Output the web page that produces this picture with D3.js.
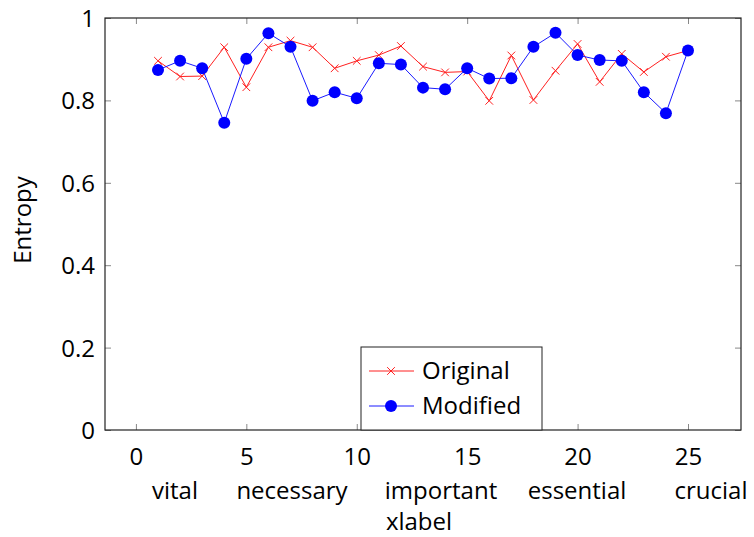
<!DOCTYPE html>
<html>
<head>
<meta charset="utf-8">
<script src="https://cdn.jsdelivr.net/npm/d3@7"></script>
<style>
  body { margin: 0; background: #fff; }
  text { font-family: "Open Sans", "DejaVu Sans", sans-serif; fill: #000; }
  .tick line { stroke: #888; }
</style>
</head>
<body>
<script>
// data
var xs = d3.range(1, 26);
var original = [0.896, 0.858, 0.859, 0.929, 0.832, 0.929, 0.945, 0.929, 0.878, 0.896,
                0.910, 0.932, 0.882, 0.868, 0.870, 0.799, 0.909, 0.801, 0.872, 0.937,
                0.845, 0.913, 0.869, 0.906, 0.921];
var modified = [0.874, 0.896, 0.878, 0.746, 0.901, 0.963, 0.930, 0.799, 0.820, 0.805,
                0.890, 0.887, 0.831, 0.827, 0.878, 0.853, 0.854, 0.930, 0.964, 0.910,
                0.898, 0.896, 0.820, 0.769, 0.921];
var xTicks = [0, 5, 10, 15, 20, 25];
var yTicks = [0, 0.2, 0.4, 0.6, 0.8, 1];
var words = ["vital", "necessary", "important", "essential", "crucial"];
var wordX = [175, 292, 441, 577, 711];   // pixel centres of the word row

(function(){
  var width = 754, height = 537;
  var left = 105, right = 741, top = 18, bottom = 430;
  var fs = "24px";

  var svg = d3.select("body").append("svg")
    .attr("width", width)
    .attr("height", height);

  var x = d3.scaleLinear().domain([-1.4, 27.4]).range([left, right]);
  var y = d3.scaleLinear().domain([0, 1]).range([bottom, top]);

  // ticks (inside, on all four sides)
  var fmt = function(d){ return d3.format("~g")(d); };
  var gx = svg.append("g").attr("transform", "translate(0," + bottom + ")")
    .call(d3.axisBottom(x).tickValues(xTicks).tickSizeInner(-6).tickSizeOuter(0).tickPadding(13).tickFormat(fmt));
  svg.append("g").attr("transform", "translate(0," + top + ")")
    .call(d3.axisTop(x).tickValues(xTicks).tickSizeInner(-6).tickSizeOuter(0).tickFormat(""));
  var gy = svg.append("g").attr("transform", "translate(" + left + ",0)")
    .call(d3.axisLeft(y).tickValues(yTicks).tickSizeInner(-6).tickSizeOuter(0).tickPadding(10).tickFormat(fmt));
  svg.append("g").attr("transform", "translate(" + right + ",0)")
    .call(d3.axisRight(y).tickValues(yTicks).tickSizeInner(-6).tickSizeOuter(0).tickFormat(""));
  svg.selectAll(".domain").remove();
  svg.selectAll(".tick text").style("font-size", fs).style("font-family", null);
  gx.selectAll(".tick text").attr("dy", "0.9em");
  gy.selectAll(".tick text").attr("dy", "0.35em");

  // frame
  svg.append("rect")
    .attr("x", left).attr("y", top)
    .attr("width", right - left).attr("height", bottom - top)
    .attr("fill", "none").attr("stroke", "#222").attr("stroke-width", 1.2);

  var line = d3.line()
    .x(function(d, i){ return x(xs[i]); })
    .y(function(d){ return y(d); });

  // Original series
  svg.append("path").datum(original)
    .attr("fill", "none").attr("stroke", "#ff2020").attr("stroke-width", 1)
    .attr("d", line);
  var cross = d3.symbol().type(d3.symbolX).size(40);
  svg.selectAll(".orig").data(original).enter().append("path")
    .attr("class", "orig")
    .attr("d", cross)
    .attr("transform", function(d, i){ return "translate(" + x(xs[i]) + "," + y(d) + ")"; })
    .attr("fill", "none").attr("stroke", "#ff2020").attr("stroke-width", 1);

  // Modified series
  svg.append("path").datum(modified)
    .attr("fill", "none").attr("stroke", "#1a1aff").attr("stroke-width", 1)
    .attr("d", line);
  svg.selectAll(".mod").data(modified).enter().append("circle")
    .attr("class", "mod")
    .attr("cx", function(d, i){ return x(xs[i]); })
    .attr("cy", function(d){ return y(d); })
    .attr("r", 6)
    .attr("fill", "#0000ff");

  // legend
  var lg = svg.append("g");
  lg.append("rect")
    .attr("x", 361).attr("y", 347).attr("width", 181).attr("height", bottom - 347)
    .attr("fill", "#fff").attr("stroke", "#222").attr("stroke-width", 1);
  var entries = [{name: "Original", color: "#ff2020", mark: "x"},
                 {name: "Modified", color: "#1a1aff", mark: "o"}];
  entries.forEach(function(e, i){
    var cy = 371 + i * 35;
    lg.append("line").attr("x1", 369).attr("x2", 414).attr("y1", cy).attr("y2", cy)
      .attr("stroke", e.color).attr("stroke-width", 1);
    if (e.mark == "x") {
      lg.append("path").attr("d", cross).attr("transform", "translate(391," + cy + ")")
        .attr("fill", "none").attr("stroke", e.color);
    } else {
      lg.append("circle").attr("cx", 391).attr("cy", cy).attr("r", 6).attr("fill", "#0000ff");
    }
    lg.append("text").attr("x", 422).attr("y", cy).attr("dy", "0.35em")
      .style("font-size", fs).text(e.name);
  });

  // word row under the axis
  svg.selectAll(".word").data(words).enter().append("text")
    .attr("class", "word")
    .attr("x", function(d, i){ return wordX[i]; })
    .attr("y", 499)
    .attr("text-anchor", "middle")
    .style("font-size", fs)
    .text(function(d){ return d; });

  // axis labels
  svg.append("text")
    .attr("x", 419).attr("y", 530)
    .attr("text-anchor", "middle")
    .style("font-size", fs)
    .text("xlabel");
  svg.append("text")
    .attr("transform", "translate(31,220) rotate(-90)")
    .attr("text-anchor", "middle")
    .style("font-size", fs)
    .text("Entropy");
})();
</script>
</body>
</html>
